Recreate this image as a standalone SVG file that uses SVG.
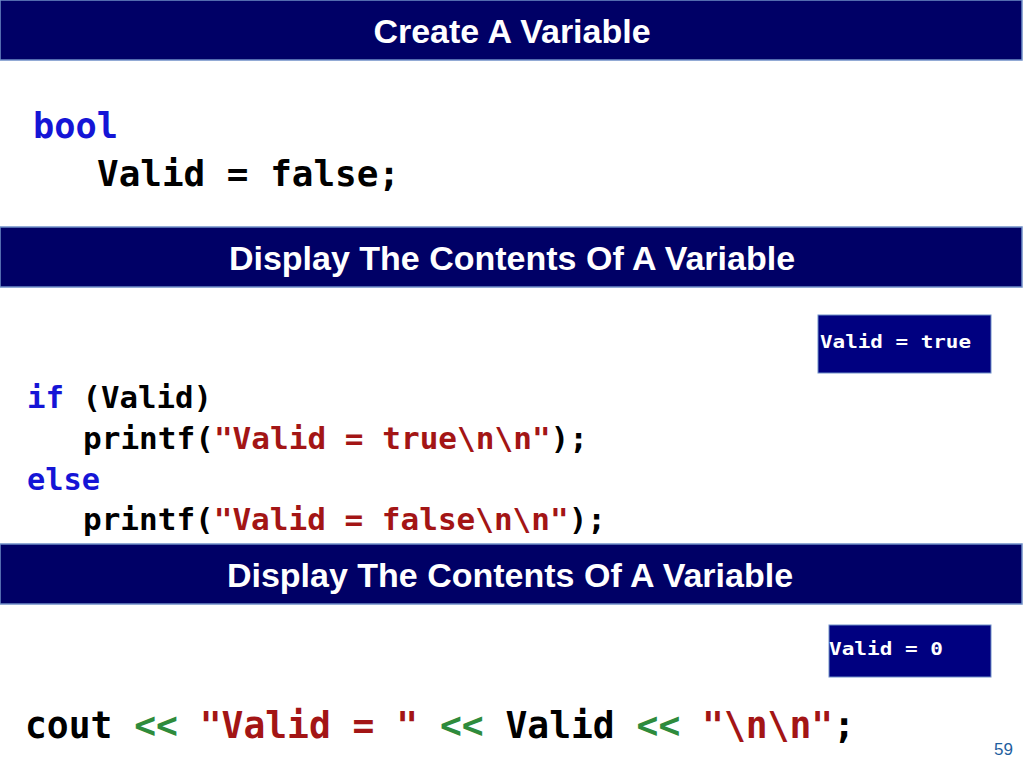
<svg xmlns="http://www.w3.org/2000/svg" width="1024" height="768" viewBox="0 0 1024 768">
<style>
.hdr{fill:#000066;stroke:#6f8fc8;stroke-width:1.5}
.ht{font-family:"Liberation Sans",Arial,sans-serif;font-weight:bold;fill:#fff;text-anchor:middle}
.code{font-family:"DejaVu Sans Mono","Liberation Mono",monospace;font-weight:bold;fill:#000}
.kw{fill:#1515d6}.str{fill:#a31515}.op{fill:#2e8b3c}
.out{fill:#000080;stroke:#6f8fc8;stroke-width:1}
.ot{font-family:"DejaVu Sans Mono",monospace;font-weight:bold;fill:#fff;font-size:18px}
</style>
<rect width="1024" height="768" fill="#fff"/>
<g id="h1"><rect class="hdr" x="0" y="0" width="1022" height="60"/><text class="ht" x="512" y="43" font-size="34">Create A Variable</text></g>
<g id="c1" class="code" font-size="35">
<text x="33" y="138" class="kw" textLength="85" lengthAdjust="spacingAndGlyphs">bool</text>
<text x="97" y="186" textLength="303" lengthAdjust="spacingAndGlyphs">Valid = false;</text>
</g>
<g id="h2"><rect class="hdr" x="0" y="227" width="1022" height="60"/><text class="ht" x="512" y="270" font-size="34">Display The Contents Of A Variable</text></g>
<g id="o1"><rect class="out" x="818" y="315" width="173" height="58"/><text class="ot" x="820" y="348" textLength="151" lengthAdjust="spacingAndGlyphs">Valid = true</text></g>
<g id="c2" class="code" font-size="30">
<text x="27" y="408" textLength="185" lengthAdjust="spacingAndGlyphs"><tspan class="kw">if</tspan> (Valid)</text>
<text x="83" y="449" textLength="505" lengthAdjust="spacingAndGlyphs">printf(<tspan class="str">"Valid = true\n\n"</tspan>);</text>
<text x="27" y="490" class="kw" textLength="73" lengthAdjust="spacingAndGlyphs">else</text>
<text x="83" y="530" textLength="523" lengthAdjust="spacingAndGlyphs">printf(<tspan class="str">"Valid = false\n\n"</tspan>);</text>
</g>
<g id="h3"><rect class="hdr" x="0" y="544" width="1022" height="60"/><text class="ht" x="510" y="587" font-size="34">Display The Contents Of A Variable</text></g>
<g id="o2"><rect class="out" x="829" y="625" width="162" height="52"/><text class="ot" x="829" y="655" textLength="114" lengthAdjust="spacingAndGlyphs">Valid = 0</text></g>
<g id="c3" class="code" font-size="38">
<text x="25" y="738" textLength="830" lengthAdjust="spacingAndGlyphs">cout <tspan class="op">&lt;&lt;</tspan> <tspan class="str">"Valid = "</tspan> <tspan class="op">&lt;&lt;</tspan> Valid <tspan class="op">&lt;&lt;</tspan> <tspan class="str">"\n\n"</tspan>;</text>
</g>
<text x="1013" y="755" font-family="Liberation Sans,Arial,sans-serif" font-size="17" fill="#1f5fa0" text-anchor="end">59</text>
</svg>
